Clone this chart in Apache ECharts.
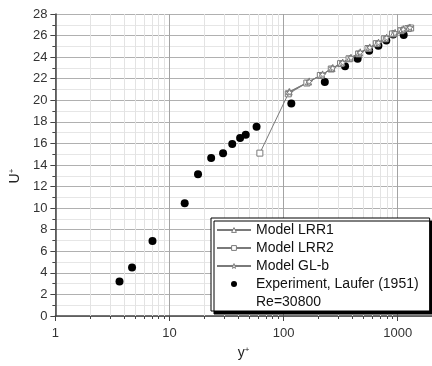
<!DOCTYPE html>
<html>
<head>
<meta charset="utf-8">
<title>U+ vs y+ — pipe flow</title>
<script src="https://cdn.jsdelivr.net/npm/echarts@6/dist/echarts.min.js"></script>
<style>
  html, body { margin: 0; padding: 0; background: #fff; }
  #chart { width: 432px; height: 366px; }
</style>
</head>
<body>
<div id="chart"></div>
<script>
// Mean velocity profile in wall units
const expX = [3.65, 4.7, 7.1, 13.6, 17.8, 23.2, 29.5, 35.5, 41.6, 46.6, 58.0, 117, 230, 346, 446, 563, 678, 795, 914, 1130];
const expY = [3.2, 4.5, 6.95, 10.45, 13.15, 14.65, 15.1, 15.95, 16.5, 16.8, 17.55, 19.7, 21.7, 23.15, 23.85, 24.6, 25.05, 25.55, 26.1, 26.05];

const lrr1X = [112, 165, 215, 265, 320, 380, 460, 560, 660, 780, 920, 1090, 1250];
const lrr1Y = [20.8, 21.7, 22.35, 22.95, 23.45, 23.9, 24.4, 24.85, 25.3, 25.75, 26.2, 26.55, 26.7];

const lrr2X = [62, 110, 160, 210, 262, 316, 375, 455, 550, 650, 770, 900, 1070, 1230, 1300];
const lrr2Y = [15.1, 20.6, 21.6, 22.3, 22.9, 23.4, 23.85, 24.3, 24.8, 25.25, 25.7, 26.15, 26.45, 26.65, 26.7];

const glbX = [113, 168, 220, 270, 330, 390, 470, 570, 680, 800, 950, 1120, 1280];
const glbY = [20.75, 21.75, 22.4, 23.0, 23.5, 23.95, 24.45, 24.9, 25.35, 25.8, 26.25, 26.6, 26.75];

// minor decade subdivisions on the log axis
const minorTicksX = [2, 3, 4, 5, 6, 7, 8, 9, 20, 30, 40, 50, 60, 70, 80, 90, 200, 300, 400, 500, 600, 700, 800, 900];

const Y_MIN = 0, Y_MAX = 28;
const FONT = "'Liberation Sans', Arial, sans-serif";
const LINE_GRAY = '#7a7a7a';
const STAR = 'path://M50,0 L61,35 L98,35 L68,57 L79,91 L50,70 L21,91 L32,57 L2,35 L39,35 Z';

const pairs = (xs, ys) => xs.map((x, i) => [x, ys[i]]);

const hollow = { color: '#ffffff', borderColor: LINE_GRAY, borderWidth: 1 };

const modelStyle = {
  type: 'line',
  symbolSize: 6,
  lineStyle: { color: LINE_GRAY, width: 1 },
  itemStyle: hollow,
  z: 4
};

const chart = echarts.init(document.getElementById('chart'), null, { renderer: 'canvas' });

chart.setOption({
  animation: false,
  backgroundColor: '#ffffff',
  textStyle: { fontFamily: FONT },
  grid: { left: 55, top: 14, width: 379, height: 302 },
  xAxis: {
    type: 'log',
    logBase: 10,
    min: 1,
    max: 2000,
    name: '{v|y}{s|+}',
    nameLocation: 'middle',
    nameGap: 30,
    nameTextStyle: {
      rich: {
        v: { fontSize: 14, color: '#222', fontFamily: FONT },
        s: { fontSize: 8, color: '#222', fontFamily: FONT, verticalAlign: 'top' }
      }
    },
    axisLine: { onZero: false, lineStyle: { color: '#444', width: 1.5 } },
    axisTick: { length: 5, lineStyle: { color: '#444' } },
    axisLabel: {
      fontSize: 13, color: '#333', margin: 11, fontFamily: FONT, showMaxLabel: false,
      formatter: v => String(Math.round(v))
    },
    splitLine: { show: true, lineStyle: { color: '#a3a3a3', width: 1 } }
  },
  yAxis: {
    type: 'value',
    min: Y_MIN,
    max: Y_MAX,
    interval: 2,
    name: '{v|U}{s|+}',
    nameLocation: 'middle',
    nameRotate: 90,
    nameGap: 33,
    nameTextStyle: {
      padding: [0, 22, 0, 0],
      rich: {
        v: { fontSize: 14, color: '#222', fontFamily: FONT },
        s: { fontSize: 8, color: '#222', fontFamily: FONT, verticalAlign: 'top' }
      }
    },
    axisLine: { show: true, lineStyle: { color: '#444', width: 1.5 } },
    axisTick: { show: true, length: 5, lineStyle: { color: '#444' } },
    minorTick: { show: true, splitNumber: 2, length: 3, lineStyle: { color: '#444' } },
    axisLabel: { fontSize: 13, color: '#333', margin: 8, fontFamily: FONT },
    splitLine: { show: true, lineStyle: { color: '#b0b0b0', width: 1 } },
    minorSplitLine: { show: true, lineStyle: { color: '#e6e6e6', width: 1 } }
  },
  legend: {
    orient: 'vertical',
    left: 211,
    top: 218,
    padding: [5, 11, 2, 5],
    itemWidth: 34,
    itemHeight: 6,
    itemGap: 4,
    selectedMode: false,
    backgroundColor: '#ffffff',
    borderColor: '#000000',
    borderWidth: 1,
    borderRadius: 0,
    shadowColor: '#000000',
    shadowBlur: 0,
    shadowOffsetX: 3,
    shadowOffsetY: 3,
    textStyle: { fontSize: 14, color: '#111', fontFamily: FONT, lineHeight: 14 },
    data: [
      { name: 'Model LRR1', itemStyle: hollow },
      { name: 'Model LRR2', itemStyle: hollow },
      { name: 'Model GL-b', itemStyle: hollow },
      { name: 'Experiment, Laufer (1951)', icon: 'circle' },
      { name: 'Re=30800', icon: 'none' }
    ]
  },
  series: [
    {
      name: 'minor grid',
      type: 'custom',
      silent: true,
      z: 1,
      clip: false,
      data: minorTicksX.map(v => [v, Y_MIN]),
      renderItem(params, api) {
        const x = api.value(0);
        const bottom = api.coord([x, Y_MIN]);
        const top = api.coord([x, Y_MAX]);
        const px = Math.round(bottom[0]) + 0.5;
        return {
          type: 'group',
          children: [
            { type: 'line', shape: { x1: px, y1: top[1], x2: px, y2: bottom[1] },
              style: { stroke: '#e3e3e3', lineWidth: 1 } },
            { type: 'line', shape: { x1: px, y1: bottom[1], x2: px, y2: bottom[1] + 3 },
              style: { stroke: '#444', lineWidth: 1 } }
          ]
        };
      }
    },
    {
      name: 'Experiment, Laufer (1951)',
      type: 'scatter',
      symbol: 'circle',
      symbolSize: 8,
      itemStyle: { color: '#000000', opacity: 1 },
      data: pairs(expX, expY),
      z: 3
    },
    Object.assign({}, modelStyle, { name: 'Model LRR2', symbol: 'rect', data: pairs(lrr2X, lrr2Y) }),
    Object.assign({}, modelStyle, { name: 'Model LRR1', symbol: 'triangle', data: pairs(lrr1X, lrr1Y) }),
    Object.assign({}, modelStyle, { name: 'Model GL-b', symbol: STAR, symbolSize: 7, data: pairs(glbX, glbY) }),
    { name: 'Re=30800', type: 'scatter', data: [] }
  ]
});
</script>
</body>
</html>
